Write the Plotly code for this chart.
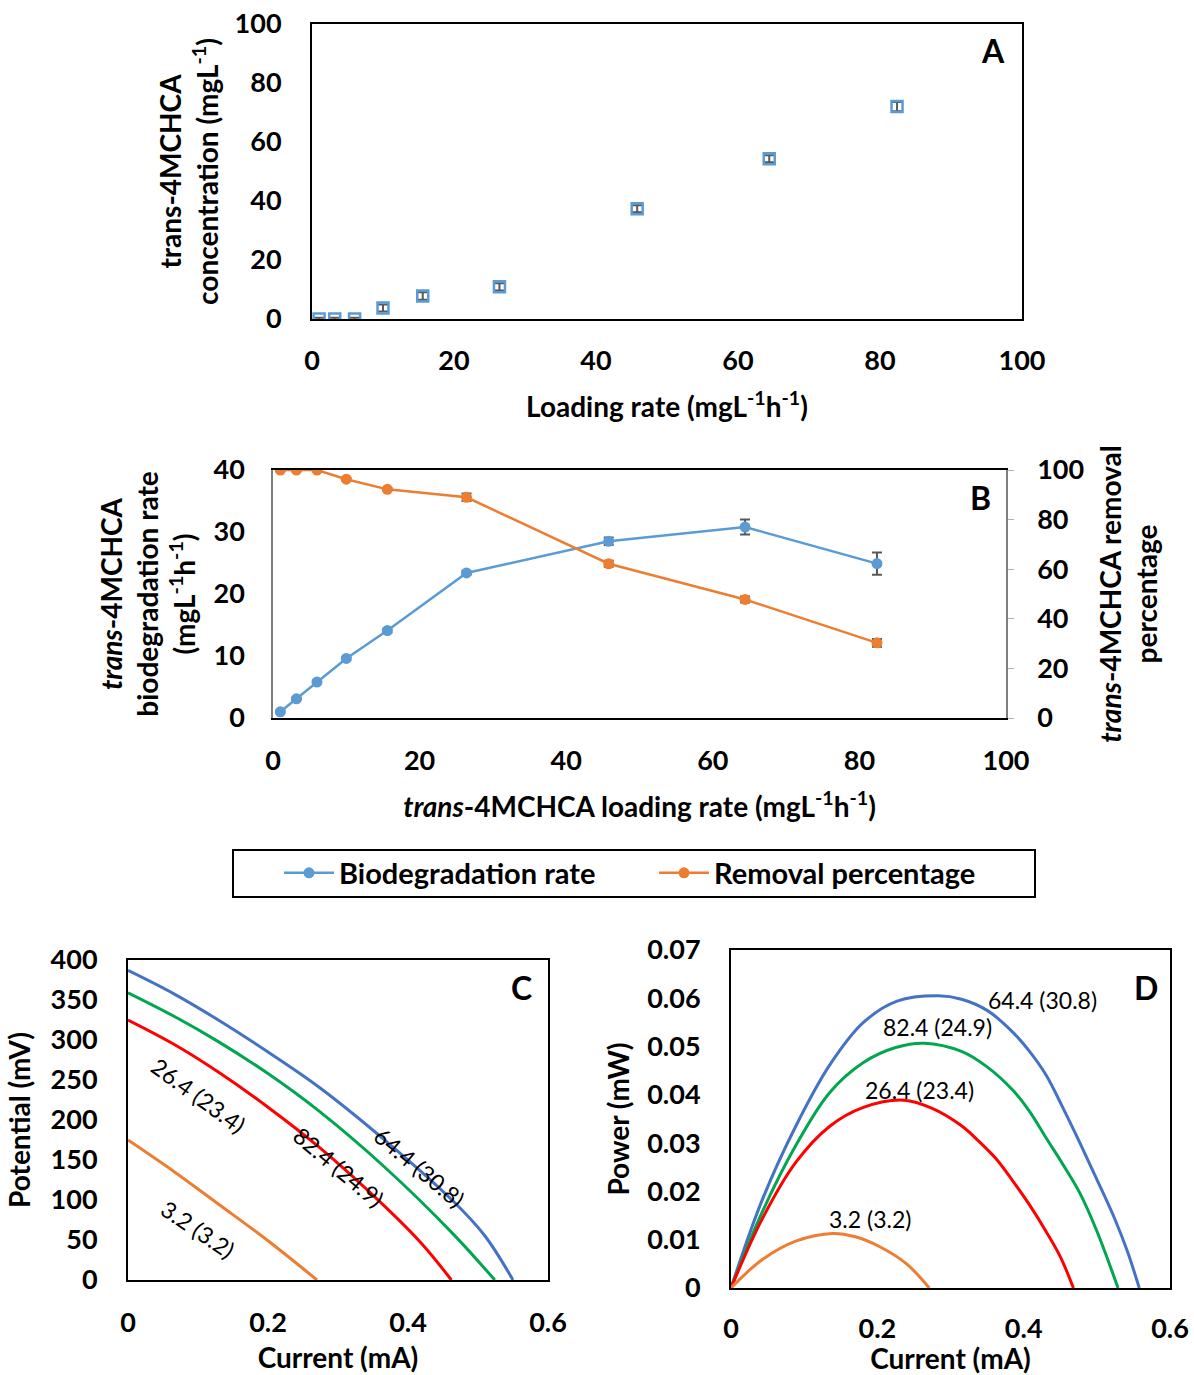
import plotly.graph_objects as go

# ---------------- Panel A ----------------
loading = [1.0, 3.2, 6.0, 10.0, 15.6, 26.4, 45.8, 64.4, 82.4]
conc = [0.0, 0.0, 0.0, 3.7, 7.8, 10.9, 37.4, 54.3, 72.0]
conc_err = [0.4, 0.4, 0.4, 1.2, 1.3, 1.2, 1.2, 1.2, 1.6]

# ---------------- Panel B ----------------
bio_rate = [1.0, 3.1, 5.8, 9.6, 14.1, 23.4, 28.5, 30.8, 24.9]
bio_err = [0.2, 0.2, 0.2, 0.2, 0.3, 0.3, 0.6, 1.2, 1.8]
removal = [100.0, 100.0, 100.0, 96.3, 92.2, 89.0, 62.2, 47.8, 30.3]
removal_err = [0.5, 0.5, 0.5, 0.5, 0.5, 1.5, 1.2, 1.2, 1.6]

# ---------------- Panel C (polarization) ----------------
curve_names = ["64.4 (30.8)", "82.4 (24.9)", "26.4 (23.4)", "3.2 (3.2)"]
curve_colors = ["#4472C4", "#00A650", "#FF0000", "#ED7D31"]
pc_I = [
    [0.0, 0.065, 0.129, 0.200, 0.273, 0.368, 0.464, 0.510, 0.550],
    [0.0, 0.065, 0.129, 0.200, 0.273, 0.368, 0.464, 0.524],
    [0.0, 0.065, 0.129, 0.200, 0.273, 0.368, 0.420, 0.462],
    [0.0, 0.065, 0.129, 0.200, 0.270],
]
pc_V = [
    [387, 358, 325, 285, 241, 174, 99, 55, 0],
    [359, 330, 298, 258, 211, 140, 58, 0],
    [325, 295, 260, 216, 166, 91, 45, 0],
    [175, 136, 95, 49, 0],
]
c_lab_I = [0.416, 0.301, 0.100, 0.100]
c_lab_V = [141, 141, 231, 64]
c_lab_ang = [40, 40, 36, 34]

# ---------------- Panel D (power) ----------------
pd_I = [
    [0.0, 0.042, 0.0885, 0.135, 0.181, 0.227, 0.283, 0.315, 0.350, 0.385, 0.408, 0.431,
     0.454, 0.477, 0.500, 0.524, 0.542, 0.558],
    [0.0, 0.042, 0.0885, 0.135, 0.181, 0.225, 0.264, 0.315, 0.350, 0.385, 0.408, 0.431,
     0.454, 0.477, 0.500, 0.529],
    [0.0, 0.042, 0.0885, 0.135, 0.181, 0.2365, 0.275, 0.315, 0.338, 0.362, 0.385, 0.408,
     0.431, 0.450, 0.468],
    [0.0, 0.042, 0.0885, 0.139, 0.170, 0.204, 0.240, 0.271],
]
pd_P = [
    [0.0, 0.0180, 0.0335, 0.0462, 0.0550, 0.0594, 0.0605, 0.0598, 0.0575, 0.0530, 0.0490,
     0.0440, 0.0372, 0.0300, 0.0225, 0.0145, 0.0075, 0.0],
    [0.0, 0.0155, 0.0295, 0.0405, 0.0467, 0.0498, 0.0507, 0.0490, 0.0458, 0.0410, 0.0366,
     0.0310, 0.0255, 0.0196, 0.0118, 0.0],
    [0.0, 0.0141, 0.0260, 0.0335, 0.0374, 0.0389, 0.0372, 0.0336, 0.0305, 0.0268, 0.0222,
     0.0172, 0.0116, 0.0065, 0.0],
    [0.0, 0.0058, 0.0097, 0.0113, 0.0106, 0.0085, 0.0050, 0.0],
]
d_lab_I = [0.426, 0.282, 0.258, 0.190]
d_lab_P = [0.0596, 0.0540, 0.0410, 0.0142]

FONT = "Lato"
W, H = 1194, 1375


def px(x):
    return x / W


def py(y):
    return 1 - y / H


fig = go.Figure()

# Panel A
fig.add_trace(go.Scatter(
    x=loading, y=conc, mode="markers", showlegend=False,
    marker=dict(symbol="square-open", size=11, color="#5B9BD5", line=dict(width=2.5)),
    error_y=dict(type="data", array=conc_err, color="#595959", thickness=2, width=5),
    xaxis="x", yaxis="y"))

# Panel B
fig.add_trace(go.Scatter(
    x=loading, y=bio_rate, mode="lines+markers", name="Biodegradation rate",
    line=dict(color="#5B9BD5", width=2.5), marker=dict(size=11, color="#5B9BD5"),
    error_y=dict(type="data", array=bio_err, color="#595959", thickness=2, width=5),
    xaxis="x2", yaxis="y2"))
fig.add_trace(go.Scatter(
    x=loading, y=removal, mode="lines+markers", name="Removal percentage",
    line=dict(color="#ED7D31", width=2.5), marker=dict(size=11, color="#ED7D31"),
    error_y=dict(type="data", array=removal_err, color="#595959", thickness=2, width=5),
    xaxis="x2", yaxis="y3"))

# Panel C and D
for i in range(4):
    fig.add_trace(go.Scatter(
        x=pc_I[i], y=pc_V[i], mode="lines", showlegend=False,
        line=dict(color=curve_colors[i], width=3, shape="spline", smoothing=1.0),
        xaxis="x3", yaxis="y4"))
    fig.add_trace(go.Scatter(
        x=pd_I[i], y=pd_P[i], mode="lines", showlegend=False,
        line=dict(color=curve_colors[i], width=3, shape="spline", smoothing=1.0),
        xaxis="x4", yaxis="y5"))

annotations = []
for i in range(4):
    annotations.append(dict(x=c_lab_I[i], y=c_lab_V[i], xref="x3", yref="y4",
                            text=curve_names[i], textangle=c_lab_ang[i], showarrow=False,
                            font=dict(family=FONT, size=23, color="black")))
    annotations.append(dict(x=d_lab_I[i], y=d_lab_P[i], xref="x4", yref="y5",
                            text=curve_names[i], showarrow=False,
                            font=dict(family=FONT, size=23, color="black")))

for lab, x, y in [("A", 993, 50), ("B", 980, 497), ("C", 521, 987), ("D", 1146, 987)]:
    annotations.append(dict(x=px(x), y=py(y), xref="paper", yref="paper", text=lab,
                            showarrow=False, xanchor="center", yanchor="middle",
                            font=dict(family=FONT, size=32, color="black", weight="bold")))

tickf = dict(family=FONT, size=27, color="black", weight="bold")
titf = dict(family=FONT, size=28, color="black", weight="bold")


def ax(**kw):
    base = dict(showgrid=False, zeroline=False, showline=True, linecolor="black", linewidth=2,
                mirror=True, tickfont=tickf, ticks="", fixedrange=True, automargin=False)
    base.update(kw)
    return base


fig.update_layout(
    width=W, height=H, margin=dict(l=0, r=0, t=0, b=0),
    paper_bgcolor="white", plot_bgcolor="white",
    font=dict(family=FONT, color="black"),
    xaxis=ax(domain=[px(312), px(1022)], range=[0, 100], dtick=20, anchor="y",
             ticklabelstandoff=17,
             title=dict(text="Loading rate (mgL<sup>-1</sup>h<sup>-1</sup>)", font=titf, standoff=22)),
    yaxis=ax(domain=[py(319), py(24)], range=[0, 100], dtick=20, anchor="x",
             ticklabelstandoff=23,
             title=dict(text="trans-4MCHCA<br>concentration (mgL<sup>-1</sup>)", font=titf, standoff=8)),
    xaxis2=ax(domain=[px(273), px(1006)], range=[0, 100], dtick=20, anchor="y2",
              ticklabelstandoff=18,
              title=dict(text="<i>trans</i>-4MCHCA loading rate (mgL<sup>-1</sup>h<sup>-1</sup>)", font=titf, standoff=22)),
    yaxis2=ax(domain=[py(718), py(470)], range=[0, 40], dtick=10, anchor="x2", mirror=False,
              linecolor="#7f7f7f", linewidth=1.5,
              ticklabelstandoff=21,
              title=dict(text="<i>trans</i>-4MCHCA<br>biodegradation rate<br>(mgL<sup>-1</sup>h<sup>-1</sup>)", font=titf, standoff=10)),
    yaxis3=ax(domain=[py(718), py(470)], range=[0, 100], dtick=20, anchor="x2", overlaying="y2",
              side="right", mirror=False, ticks="outside", ticklen=6, tickcolor="#b0b0b0",
              linecolor="#7f7f7f", linewidth=1.5,
              ticklabelstandoff=18,
              title=dict(text="<i>trans</i>-4MCHCA removal<br>percentage", font=titf, standoff=18)),
    xaxis3=ax(domain=[px(128), px(548)], range=[0, 0.6], dtick=0.2, anchor="y4",
              ticklabelstandoff=18,
              title=dict(text="Current (mA)", font=titf, standoff=11)),
    yaxis4=ax(domain=[py(1280), py(960)], range=[0, 400], dtick=50, anchor="x3",
              ticklabelstandoff=23,
              title=dict(text="Potential (mV)", font=titf, standoff=12)),
    xaxis4=ax(domain=[px(731), px(1170)], range=[0, 0.6], dtick=0.2, anchor="y5",
              ticklabelstandoff=16,
              title=dict(text="Current (mA)", font=titf, standoff=10)),
    yaxis5=ax(domain=[py(1288), py(950)], range=[0, 0.07], dtick=0.01, anchor="x4",
              ticklabelstandoff=23,
              title=dict(text="Power (mW)", font=titf, standoff=9)),
    legend=dict(orientation="h", x=px(279), y=py(873), xanchor="left", yanchor="middle",
                borderwidth=0, bgcolor="rgba(0,0,0,0)",
                font=dict(family=FONT, size=29, color="black", weight="bold"),
                entrywidth=310, itemwidth=50),
    shapes=[dict(type="rect", xref="paper", yref="paper",
                 x0=px(233), x1=px(1035), y0=py(897), y1=py(850),
                 line=dict(color="black", width=2))],
    annotations=annotations,
)

fig.write_html("out.html")
